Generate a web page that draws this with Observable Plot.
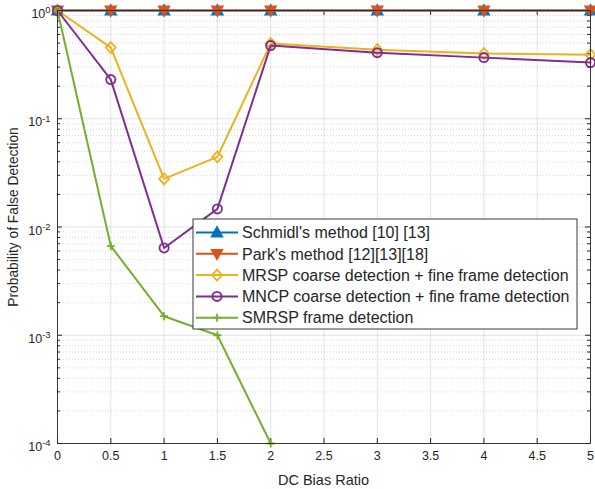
<!DOCTYPE html>
<html><head><meta charset="utf-8">
<script src="https://cdn.jsdelivr.net/npm/d3@7"></script>
<script src="https://cdn.jsdelivr.net/npm/@observablehq/plot@0.6"></script>
<style>
body{margin:0;background:#fff}
#chart{position:relative;width:595px;height:489px}
</style>
</head><body><div id="chart"></div>
<script>
// ---- data ----
const dcBias   = [0, 0.5, 1, 1.5, 2, 3, 4, 5];
const schmidl  = [1, 1, 1, 1, 1, 1, 1, 1];
const park     = [1, 1, 1, 1, 1, 1, 1, 1];
const mrsp     = [1, 0.454, 0.0278, 0.0445, 0.495, 0.435, 0.40, 0.39];
const mncp     = [1, 0.23, 0.0064, 0.0147, 0.474, 0.408, 0.367, 0.33];
const smrspX   = [0, 0.5, 1, 1.5, 2];
const smrsp    = [1, 0.00667, 0.0015, 0.001, 0.0001];
const seriesNames = [
  "Schmidl's method [10] [13]",
  "Park's method [12][13][18]",
  "MRSP coarse detection + fine frame detection",
  "MNCP coarse detection + fine frame detection",
  "SMRSP frame detection"
];
const xTicks = [0, 0.5, 1, 1.5, 2, 2.5, 3, 3.5, 4, 4.5, 5];
const yTicks = [1e-4, 1e-3, 1e-2, 1e-1, 1];
const xLabel = "DC Bias Ratio";
const yLabel = "Probability of False Detection";

// ---- style ----
const colors = ["#0072BD", "#D95319", "#EDB120", "#7E2F8E", "#77AC30"];
const W = 595, H = 489, mL = 57, mR = 5, mT = 10, mB = 46;
const fw = W - mL - mR, fh = H - mT - mB;
const font = "'Liberation Sans', Arial, Helvetica, sans-serif";
const ink = "#262626";

// custom marker shapes
const triUp = {draw(c, s){const r=Math.sqrt(s/Math.PI); c.moveTo(0,-r); c.lineTo(r*0.95,r*0.72); c.lineTo(-r*0.95,r*0.72); c.closePath();}};
const triDown = {draw(c, s){const r=Math.sqrt(s/Math.PI); c.moveTo(0,r); c.lineTo(r*0.95,-r*0.72); c.lineTo(-r*0.95,-r*0.72); c.closePath();}};
const diamond = {draw(c, s){const r=Math.sqrt(s/Math.PI); c.moveTo(0,-r); c.lineTo(r*0.9,0); c.lineTo(0,r); c.lineTo(-r*0.9,0); c.closePath();}};
const circle = {draw(c, s){const r=Math.sqrt(s/Math.PI); c.moveTo(r,0); c.arc(0,0,r,0,2*Math.PI);}};
const plus = {draw(c, s){const r=Math.sqrt(s/Math.PI); c.moveTo(-r,0); c.lineTo(r,0); c.moveTo(0,-r); c.lineTo(0,r);}};

const markers = [
  {sym: triUp, r: 6, fill: colors[0], sw: 1.2},
  {sym: triDown, r: 6, fill: colors[1], sw: 1.2},
  {sym: diamond, r: 5.5, fill: "none", sw: 1.8},
  {sym: circle, r: 4.6, fill: "none", sw: 1.8},
  {sym: plus, r: 4, fill: "none", sw: 1.8}
];

const table = (xs, ys, k) => xs.map((x, i) => ({x, y: ys[i], k}));
const series = [
  table(dcBias, schmidl, 0),
  table(dcBias, park, 1),
  table(dcBias, mrsp, 2),
  table(dcBias, mncp, 3),
  table(smrspX, smrsp, 4)
];

const minorY = [];
for (let e = -4; e < 0; e++) for (let k = 2; k <= 9; k++) minorY.push(k * Math.pow(10, e));

const seriesMarks = series.flatMap((d, k) => [
  Plot.line(d, {x: "x", y: "y", stroke: colors[k], strokeWidth: 2}),
  Plot.dot(d, {x: "x", y: "y", symbol: markers[k].sym, r: markers[k].r,
               stroke: colors[k], fill: markers[k].fill, strokeWidth: markers[k].sw})
]);

const chart = Plot.plot({
  width: W, height: H,
  marginLeft: mL, marginRight: mR, marginTop: mT, marginBottom: mB,
  style: {fontFamily: font, fontSize: "12.5px", color: ink, background: "#fff"},
  x: {domain: [0, 5]},
  y: {type: "log", domain: [1e-4, 1]},
  marks: [
    // grid
    Plot.ruleY(minorY, {stroke: ink, strokeOpacity: 0.3, strokeDasharray: "1,2", strokeWidth: 0.6}),
    Plot.ruleX(xTicks, {stroke: ink, strokeOpacity: 0.13}),
    Plot.ruleY(yTicks, {stroke: ink, strokeOpacity: 0.13}),
    // axes (tick labels only)
    Plot.axisX({ticks: xTicks, tickSize: 0, tickPadding: 8, tickFormat: d => String(d), label: null, fontSize: 12.5}),
    Plot.axisY({ticks: yTicks, tickSize: 0, tickPadding: 7,
                tickFormat: d => "10^" + Math.round(Math.log10(d)), label: null, fontSize: 12.5}),
    // inward ticks (box)
    Plot.ruleX(xTicks, {stroke: ink, insetTop: fh - 5}),
    Plot.ruleX(xTicks, {stroke: ink, insetBottom: fh - 5}),
    Plot.ruleY(yTicks, {stroke: ink, insetRight: fw - 5}),
    Plot.ruleY(yTicks, {stroke: ink, insetLeft: fw - 5}),
    Plot.ruleY(minorY, {stroke: ink, insetRight: fw - 3}),
    Plot.ruleY(minorY, {stroke: ink, insetLeft: fw - 3}),
    ...seriesMarks,
    Plot.frame({stroke: ink, strokeWidth: 0.9})
  ]
});

// superscript exponents on y tick labels
d3.select(chart).selectAll('g[aria-label="y-axis tick label"] text').each(function() {
  const t = d3.select(this);
  const s = t.text();
  if (!s.includes("^")) return;
  const [b, e] = s.split("^");
  t.text(b).attr("y", "0.6em");
  t.append("tspan").attr("dy", "-0.5em").attr("font-size", "0.75em").text(e);
});

const svg = d3.select(chart);

// axis labels
svg.append("text").attr("x", mL + fw / 2).attr("y", 485)
  .attr("text-anchor", "middle").attr("font-family", font).attr("font-size", 14.5)
  .attr("fill", ink).text(xLabel);
svg.append("text").attr("transform", `translate(18,217) rotate(-90)`)
  .attr("text-anchor", "middle").attr("font-family", font).attr("font-size", 13.8)
  .attr("fill", ink).text(yLabel);

// legend
const lg = svg.append("g").attr("font-family", font).attr("font-size", 16).attr("text-anchor", "start");
const bx = 193, by = 219, bw = 384, bh = 110, rowH = 21.3, row0 = 232.5;
lg.append("rect").attr("x", bx).attr("y", by).attr("width", bw).attr("height", bh)
  .attr("fill", "#fff").attr("stroke", ink).attr("stroke-width", 0.9);
seriesNames.forEach((name, k) => {
  const yy = row0 + k * rowH;
  lg.append("line").attr("x1", bx + 3).attr("x2", bx + 45).attr("y1", yy).attr("y2", yy)
    .attr("stroke", colors[k]).attr("stroke-width", 2);
  const m = markers[k];
  lg.append("path").attr("transform", `translate(${bx + 24},${yy})`)
    .attr("d", d3.symbol(m.sym, m.r * m.r * Math.PI)())
    .attr("stroke", colors[k]).attr("fill", m.fill).attr("stroke-width", m.sw);
  lg.append("text").attr("x", bx + 49).attr("y", yy).attr("dy", "0.36em")
    .attr("text-anchor", "start").attr("fill", ink).text(name);
});

document.getElementById("chart").appendChild(chart);
</script>
</body></html>
